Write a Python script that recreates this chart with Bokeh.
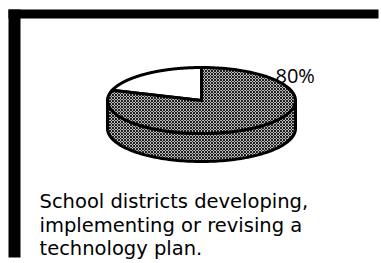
import numpy as np
from bokeh.plotting import figure
from bokeh.models import Range1d
from bokeh.embed import file_html
from bokeh.resources import INLINE
from bokeh.core.properties import value

# data
slice_labels = ["Developing/implementing/revising plan", "Other"]
slice_values = [80, 20]
label_text = ["80%"]
caption_lines = ["School districts developing,",
                 "implementing or revising a",
                 "technology plan."]

W, H = 381, 263
p = figure(width=W, height=H, output_backend="svg", toolbar_location=None,
           x_range=Range1d(0, W), y_range=Range1d(H, 0), min_border=0)
p.axis.visible = False
p.grid.visible = False
p.outline_line_color = None
p.background_fill_color = "white"

# frame bars
p.quad(left=[8], right=[378], top=[9], bottom=[18], fill_color="black", line_color=None)
p.quad(left=[8], right=[20], top=[9], bottom=[257], fill_color="black", line_color=None)

# pie geometry
cx, cy, a, b, depth = 201, 100, 94, 33, 28

def ell(t, dy=0):
    return cx + a * np.cos(t), cy + dy - b * np.sin(t)

hatch = dict(fill_color="white", hatch_pattern="x", hatch_color="black",
             hatch_scale=3.0, hatch_weight=1.1, hatch_alpha=0.9)

# side
t = np.linspace(np.pi, 2 * np.pi, 120)
x1, y1 = ell(t)
x2, y2 = ell(t[::-1], depth)
p.patch(np.concatenate([x1, x2]), np.concatenate([y1, y2]),
        line_color="black", line_width=3, **hatch)

# top slices, starting at 12 o'clock going counterclockwise for the small slice
total = sum(slice_values)
start = np.pi / 2
angles = []
for v in slice_values[::-1]:
    end = start + 2 * np.pi * v / total
    angles.append((start, end))
    start = end
fills = [dict(fill_color="white"), hatch]
for (s, e), f in zip(angles, fills):
    tt = np.linspace(s, e, 200)
    xs, ys = ell(tt)
    p.patch(np.concatenate([[cx], xs, [cx]]), np.concatenate([[cy], ys, [cy]]),
            line_color="black", line_width=3, line_join="round", **f)

p.text(x=[275], y=[75], text=label_text, text_font=value("Open Sans"),
       text_font_size="20px", text_color="black", text_baseline="alphabetic")

for i, line in enumerate(caption_lines):
    p.text(x=[39], y=[201 + i * 23.5], text=[line], text_font=value("DejaVu Sans"),
           text_font_size="19.5px", text_color="black", text_baseline="alphabetic")

open("out.html", "w").write(file_html(p, INLINE))
